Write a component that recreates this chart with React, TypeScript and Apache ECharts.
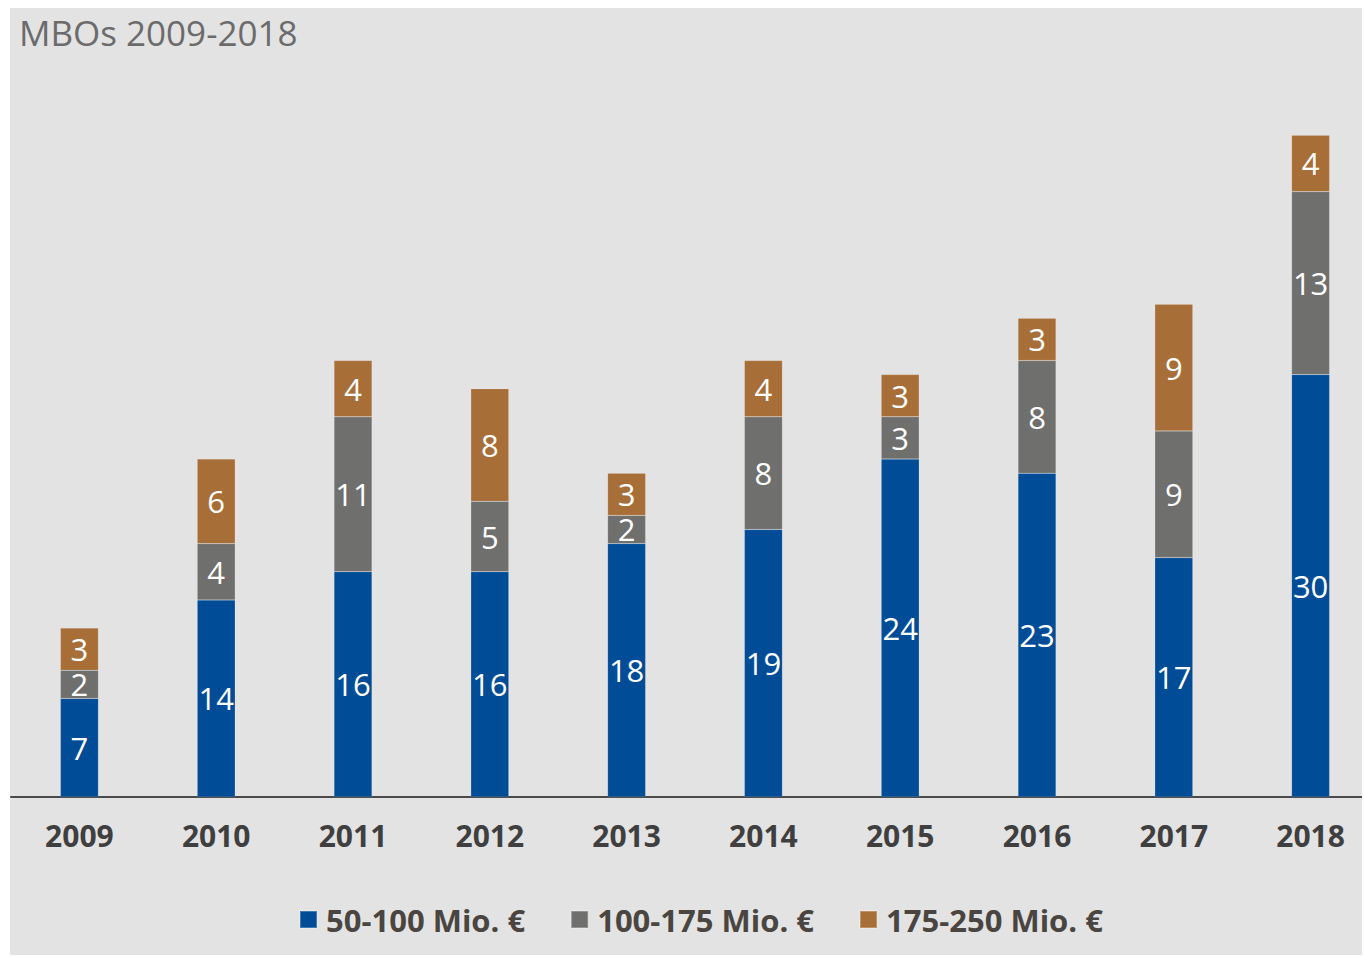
import React, { useEffect, useRef } from "react";
import * as echarts from "echarts";

const years = ["2009", "2010", "2011", "2012", "2013", "2014", "2015", "2016", "2017", "2018"];
const small = [7, 14, 16, 16, 18, 19, 24, 23, 17, 30];
const mid = [2, 4, 11, 5, 2, 8, 3, 8, 9, 13];
const large = [3, 6, 4, 8, 3, 4, 3, 3, 9, 4];
const seriesNames = ["50-100 Mio. €", "100-175 Mio. €", "175-250 Mio. €"];
const colors = ["#004c97", "#6f6f6e", "#a86e37"];

export default function App() {
  const ref = useRef<HTMLDivElement>(null);
  useEffect(() => {
    if (!ref.current) return;
    const chart = echarts.init(ref.current, undefined, { renderer: "svg" });
    const data = [small, mid, large];
    chart.setOption({
      animation: false,
      title: {
        text: "MBOs 2009-2018",
        left: 4,
        top: 2,
        textStyle: { fontFamily: "Open Sans", fontWeight: "normal", fontSize: 35, color: "#6b6b6b" },
      },
      legend: {
        top: 896,
        left: 289,
        padding: 0,
        itemWidth: 17,
        itemHeight: 17,
        itemGap: 45,
        icon: "rect",
        textStyle: {
          fontFamily: "Open Sans",
          fontWeight: "bold",
          fontSize: 31,
          color: "#4a4540",
          padding: [0, 0, 0, 4],
        },
        data: seriesNames,
      },
      grid: { left: 1, right: 1, top: 85, bottom: 158 },
      xAxis: {
        type: "category",
        data: years,
        axisLine: { lineStyle: { color: "#4a4a4a", width: 2 } },
        axisTick: { show: false },
        axisLabel: { margin: 23, fontFamily: "Open Sans", fontWeight: "bold", fontSize: 30, color: "#3f3f3f" },
      },
      yAxis: { type: "value", min: 0, max: 50, show: false, splitLine: { show: false } },
      series: seriesNames.map((name, i) => ({
        name,
        type: "bar",
        stack: "total",
        barWidth: 38,
        data: data[i],
        itemStyle: { color: colors[i], borderColor: "rgba(255,255,255,0.25)", borderWidth: 0.5 },
        label: {
          show: true,
          position: "inside",
          color: "#ffffff",
          fontFamily: "Open Sans",
          fontSize: 31,
        },
      })),
    });
    return () => chart.dispose();
  }, []);
  return (
    <div
      style={{
        position: "absolute",
        left: 10,
        top: 8,
        width: 1352,
        height: 947,
        overflow: "hidden",
        background: "#e3e3e3",
      }}
    >
      <div ref={ref} style={{ width: 1370, height: 947 }} />
    </div>
  );
}
